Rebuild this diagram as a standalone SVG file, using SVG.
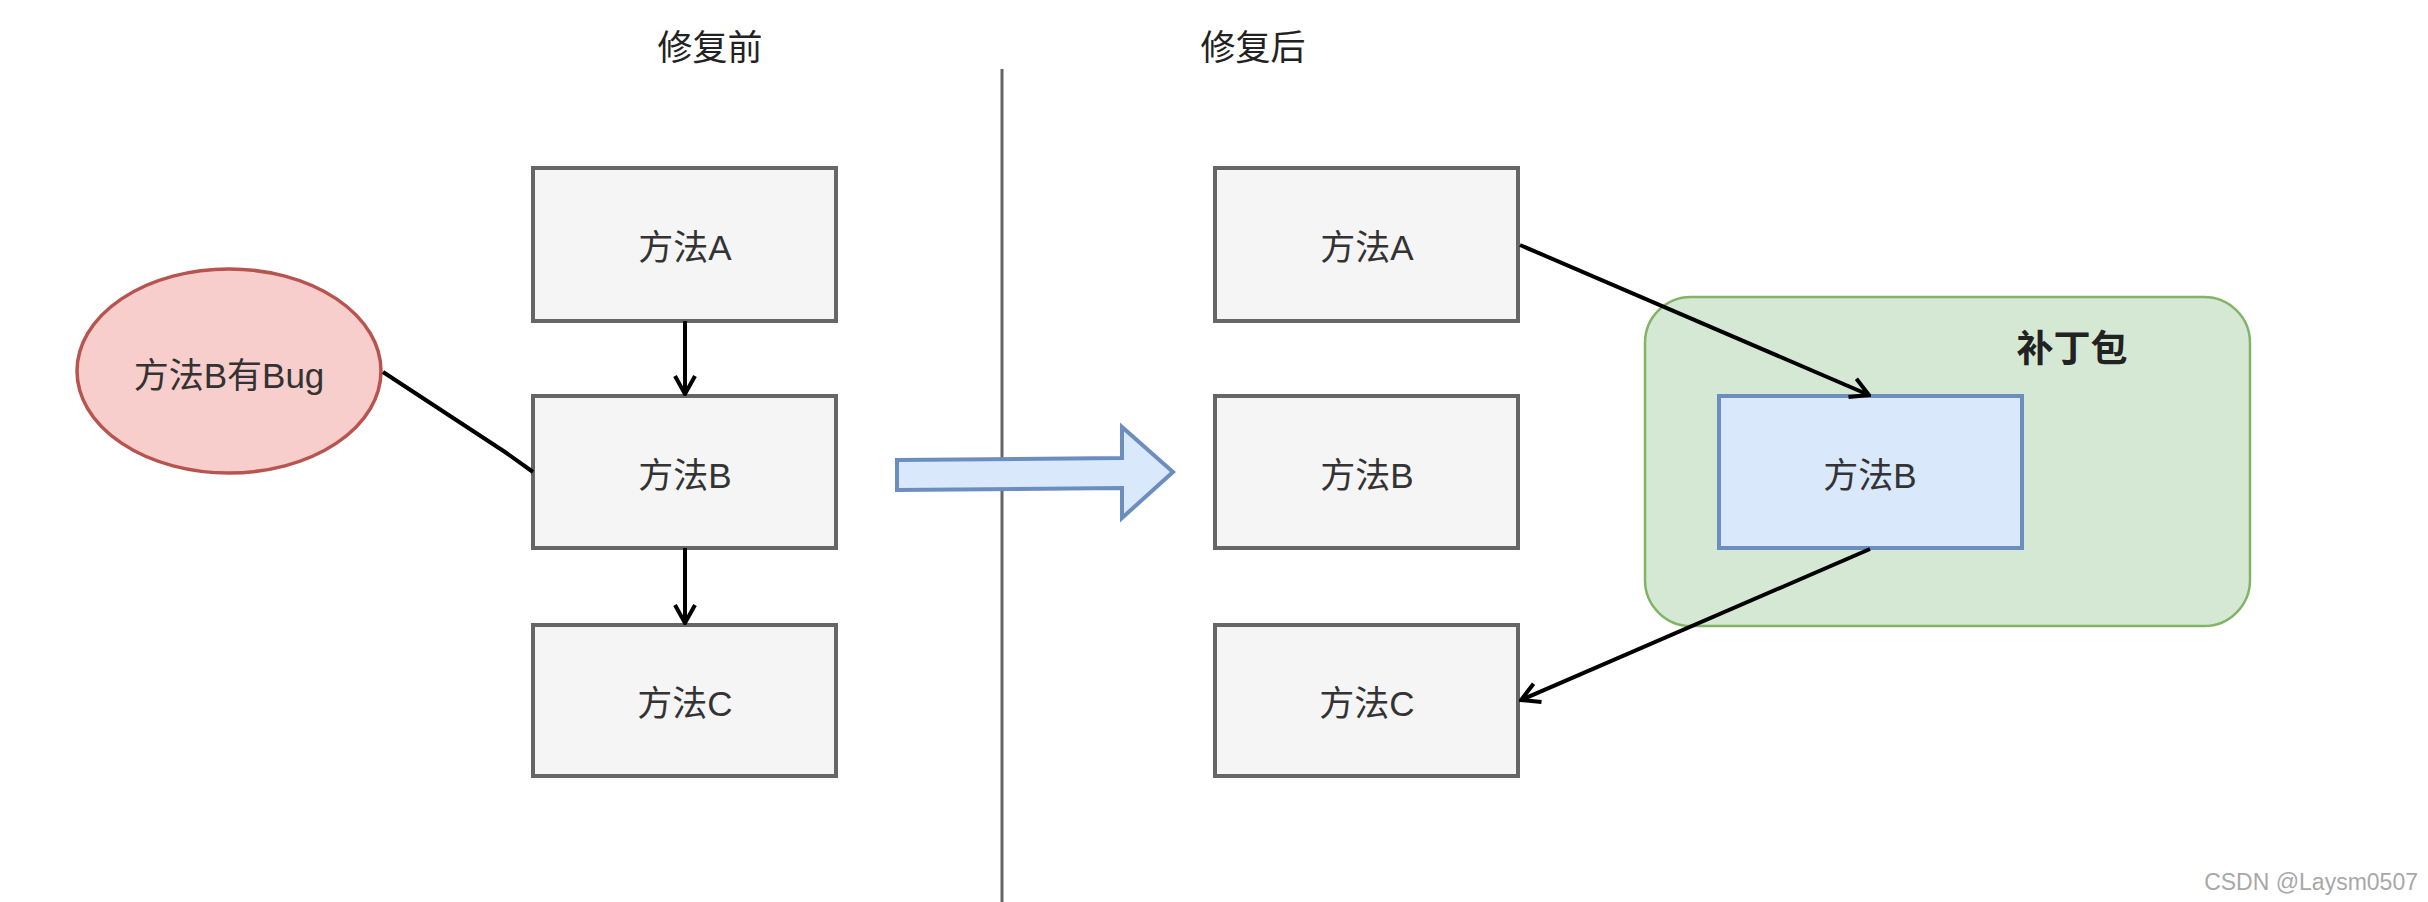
<svg xmlns="http://www.w3.org/2000/svg" width="2428" height="902" viewBox="0 0 2428 902">
<defs>
<style>
.box{fill:#f5f5f5;stroke:#666666;stroke-width:4}
.blue{fill:#dae8fc;stroke:#6c8ebf;stroke-width:4}
.lbl{font-family:"Liberation Sans","Noto Sans CJK SC",sans-serif;font-size:35px;fill:#333333;text-anchor:middle}
.title{font-family:"Liberation Sans","Noto Sans CJK SC",sans-serif;font-size:35px;fill:#222222;text-anchor:middle}
.conn{stroke:#000000;stroke-width:4;fill:none}
</style>
<marker id="open" viewBox="0 0 22 24" refX="20" refY="12" markerWidth="22" markerHeight="24" markerUnits="userSpaceOnUse" orient="auto">
<path d="M2,2 L20,12 L2,22" fill="none" stroke="#000000" stroke-width="4"/>
</marker>
</defs>
<rect width="2428" height="902" fill="#ffffff"/>

<g id="title-before"><text class="title" x="710" y="60">修复前</text></g>
<g id="title-after"><text class="title" x="1253" y="60">修复后</text></g>

<g id="divider"><line x1="1002" y1="69" x2="1002" y2="902" stroke="#666666" stroke-width="3"/></g>

<g id="patch-container">
<rect x="1645" y="297" width="605" height="329" rx="46" ry="46" fill="#d5e8d4" stroke="#82b366" stroke-width="2.5"/>
<text x="2072" y="362" font-family="Liberation Sans,'Noto Sans CJK SC',sans-serif" font-size="37" font-weight="bold" fill="#222222" text-anchor="middle">补丁包</text>
</g>

<g id="bug-ellipse">
<ellipse cx="229" cy="371" rx="152" ry="102" fill="#f8cecc" stroke="#b85450" stroke-width="3.5"/>
<text class="lbl" x="229" y="388">方法B有Bug</text>
</g>

<g id="before-A"><rect class="box" x="533" y="168" width="303" height="153"/><text class="lbl" x="685" y="260">方法A</text></g>
<g id="before-B"><rect class="box" x="533" y="396" width="303" height="152"/><text class="lbl" x="685" y="488">方法B</text></g>
<g id="before-C"><rect class="box" x="533" y="625" width="303" height="151"/><text class="lbl" x="685" y="716">方法C</text></g>

<g id="after-A"><rect class="box" x="1215" y="168" width="303" height="153"/><text class="lbl" x="1367" y="260">方法A</text></g>
<g id="after-B"><rect class="box" x="1215" y="396" width="303" height="152"/><text class="lbl" x="1367" y="488">方法B</text></g>
<g id="after-C"><rect class="box" x="1215" y="625" width="303" height="151"/><text class="lbl" x="1367" y="716">方法C</text></g>

<g id="patch-B"><rect class="blue" x="1719" y="396" width="303" height="152"/><text class="lbl" x="1870" y="488">方法B</text></g>

<g id="big-arrow">
<polygon class="blue" points="897,460 1122,458 1122,427 1173,472 1122,518 1122,488 897,490" stroke-linejoin="miter"/>
</g>

<g id="connectors">
<line class="conn" x1="685" y1="321" x2="685" y2="394" marker-end="url(#open)"/>
<line class="conn" x1="685" y1="548" x2="685" y2="623" marker-end="url(#open)"/>
<polyline class="conn" points="383,372 505,452 533,472"/>
<line class="conn" x1="1520" y1="245" x2="1869" y2="395" marker-end="url(#open)"/>
<line class="conn" x1="1870" y1="549" x2="1521" y2="700" marker-end="url(#open)"/>
</g>

<g id="watermark"><text x="2418" y="890" font-family="Liberation Sans,Arial,sans-serif" font-size="23" fill="#a8a8a8" text-anchor="end">CSDN @Laysm0507</text></g>
</svg>
